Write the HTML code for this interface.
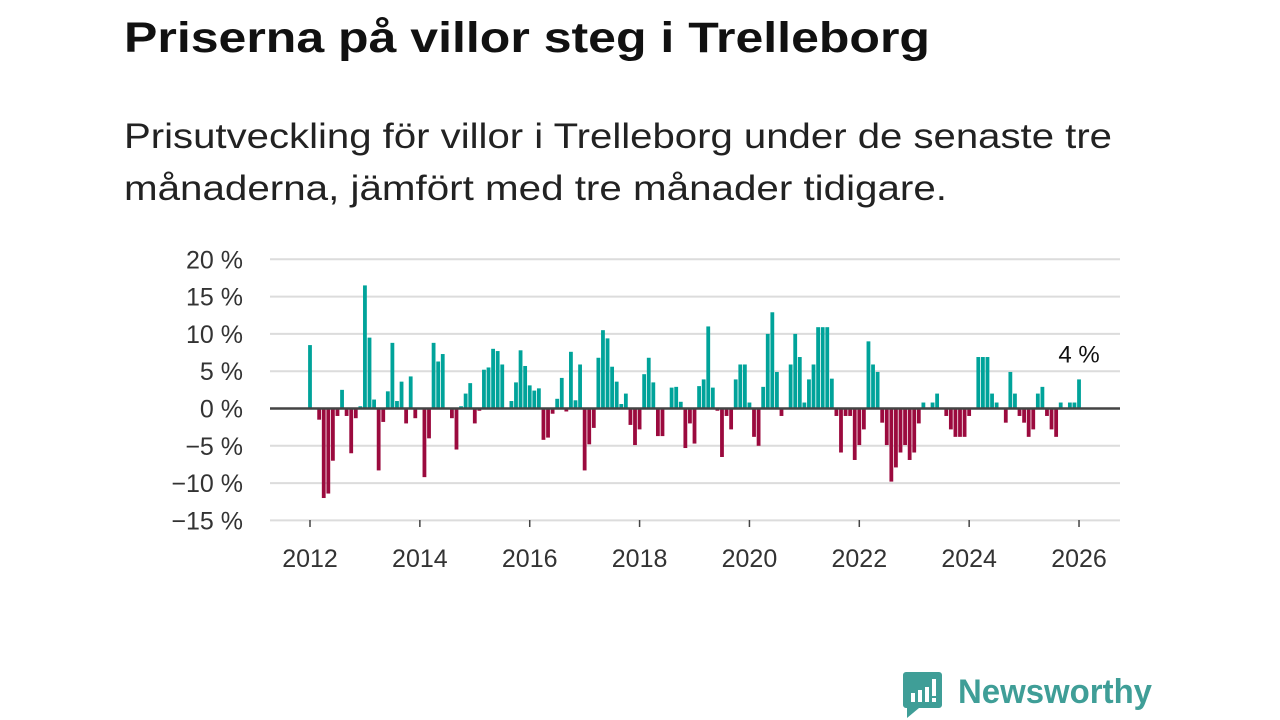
<!DOCTYPE html>
<html><head><meta charset="utf-8">
<style>
html,body{margin:0;padding:0;background:#fff;}
svg{display:block;font-family:"Liberation Sans",sans-serif;}
</style></head>
<body>
<svg id="chart" width="1280" height="720" viewBox="0 0 1280 720">
  <text x="124" y="52" font-size="43" font-weight="bold" fill="#111" textLength="806" lengthAdjust="spacingAndGlyphs">Priserna på villor steg i Trelleborg</text>
  <text x="124" y="148" font-size="35" fill="#222" textLength="988" lengthAdjust="spacingAndGlyphs">Prisutveckling för villor i Trelleborg under de senaste tre</text>
  <text x="124" y="200" font-size="35" fill="#222" textLength="823" lengthAdjust="spacingAndGlyphs">månaderna, jämfört med tre månader tidigare.</text>
  <g id="grid"></g>
  <g id="yticks"></g>
  <g id="bars"></g>
  <line id="zero" x1="270" x2="1120" stroke="#444" stroke-width="2.5"/>
  <g id="xticks"></g>
  <text id="lastlabel" font-size="24" fill="#111" text-anchor="middle">4 %</text>
  <g>
    <path d="M906 672 h33 a3 3 0 0 1 3 3 v30 a3 3 0 0 1 -3 3 h-20 l-12 10 v-10 h-1 a3 3 0 0 1 -3 -3 v-30 a3 3 0 0 1 3 -3z" fill="#3f9e97"/>
    <rect x="911" y="693" width="4" height="9" fill="#fff"/>
    <rect x="918" y="690" width="4" height="12" fill="#fff"/>
    <rect x="925" y="687" width="4" height="15" fill="#fff"/>
    <rect x="932" y="679" width="4" height="17" fill="#fff"/>
    <rect x="932" y="698" width="4" height="4" fill="#fff"/>
    <text x="958" y="703" font-size="34" font-weight="bold" fill="#3f9e97" textLength="194" lengthAdjust="spacingAndGlyphs">Newsworthy</text>
  </g>
</svg>
<script>
const values = [8.5,0,-1.5,-12,-11.4,-7,-1,2.5,-1,-6,-1.3,0.3,
16.5,9.5,1.2,-8.3,-1.8,2.3,8.8,1,3.6,-2,4.3,-1.3,
0,-9.2,-4,8.8,6.3,7.3,0,-1.3,-5.5,0.3,2,3.4,
-2,-0.3,5.2,5.5,8,7.7,5.9,0,1,3.5,7.8,5.7,
3.1,2.4,2.7,-4.2,-3.9,-0.7,1.3,4.1,-0.4,7.6,1.1,5.9,
-8.3,-4.8,-2.6,6.8,10.5,9.4,5.6,3.6,0.6,2,-2.2,-4.9,
-2.8,4.6,6.8,3.5,-3.7,-3.7,0,2.8,2.9,0.9,-5.3,-2,
-4.7,3,3.9,11,2.8,-0.3,-6.5,-1,-2.8,3.9,5.9,5.9,
0.8,-3.8,-5,2.9,10,12.9,4.9,-1,0,5.9,10,6.9,
0.8,3.9,5.9,10.9,10.9,10.9,4,-1,-5.9,-1,-1,-6.9,
-4.9,-2.8,9,5.9,4.9,-1.9,-4.9,-9.8,-7.9,-5.9,-4.9,-6.9,
-5.9,-2,0.8,0,0.8,2,0,-1,-2.8,-3.8,-3.8,-3.8,
-1,0,6.9,6.9,6.9,2,0.8,0,-1.9,4.9,2,-1,
-1.9,-3.8,-2.8,2,2.9,-1,-2.8,-3.8,0.8,0,0.8,0.8,
3.9];
const startYear = 2012;
const yTicks = [20,15,10,5,0,-5,-10,-15];
const yTickLabels = ["20 %","15 %","10 %","5 %","0 %","\u22125 %","\u221210 %","\u221215 %"];
const xTicks = [2012,2014,2016,2018,2020,2022,2024,2026];

const NS='http://www.w3.org/2000/svg';
const y = v => 408.5 - v*7.46;
const x = yr => 310 + (yr-2012)*54.93;
const xm = i => x(startYear + i/12);
function mk(tag, attrs, parent){const e=document.createElementNS(NS,tag);for(const k in attrs)e.setAttribute(k,attrs[k]);parent.appendChild(e);return e;}

const grid=document.getElementById('grid'), yt=document.getElementById('yticks'), xt=document.getElementById('xticks'), bars=document.getElementById('bars');
yTicks.forEach((t,k)=>{
  const g=mk('line',{x1:270,x2:1120,y1:y(t),y2:y(t),stroke:'#dcdcdc','stroke-width':2},grid);
  
  
  const tx=mk('text',{x:243,y:y(t)+9,'font-size':25,fill:'#333','text-anchor':'end'},yt);
  tx.textContent=yTickLabels[k];
  
  
});
xTicks.forEach(t=>{
  const l=mk('line',{x1:x(t),x2:x(t),y1:520,y2:527,stroke:'#444','stroke-width':1.5},xt);
  
  
  const tx=mk('text',{x:x(t),y:567,'font-size':25,fill:'#333','text-anchor':'middle'},xt);
  tx.textContent=t;
  
  
});
values.forEach((v,i)=>{
  if(v===0) return;
  const cx=xm(i);
  const r=mk('rect',{x:cx-1.9,width:3.8,y:Math.min(y(v),y(0)),height:Math.abs(y(v)-y(0)),fill:v>0?'#00a39a':'#9b0a3e'},bars);
  
  
});
const z=document.getElementById('zero'); z.setAttribute('y1',y(0)); z.setAttribute('y2',y(0));
const last=values.length-1, ll=document.getElementById('lastlabel');
ll.setAttribute('x',xm(last)); ll.setAttribute('y',y(values[last])-17);
ll.textContent=Math.round(values[last])+' %';
</script>
</body></html>
